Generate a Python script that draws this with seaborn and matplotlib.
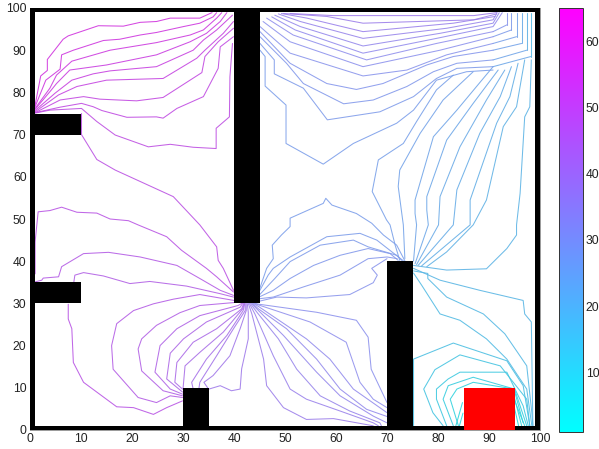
import matplotlib
matplotlib.use("Agg")
import matplotlib.pyplot as plt
import matplotlib.colors as mcolors
from matplotlib.cm import ScalarMappable
from matplotlib.patches import Rectangle
import pandas as pd
import seaborn as sns

# obstacles: x, y, width, height
walls = [(0, 0, 100, 1), (0, 99, 100, 1), (0, 0, 1, 100), (99, 0, 1, 100),
         (1, 70, 9, 5), (1, 30, 9, 5), (30, 0, 5, 10), (40, 30, 5, 70), (70, 0, 5, 40)]
goal = (85, 0, 10, 10)

# contours: (level, xs, ys)
contours = [
 (60,[1,2.1,3.4,3.4,6.5,7.5,13.4,18.3,21.6,24.8,27.5,33.3,35.3,35.7],[77,83.9,85.2,87.8,92.6,93.4,95.8,95.7,96.6,96.8,97.6,97.6,98.7,98.9]),
 (59,[1,3.1,5.9,6.2,8.5,14.4,17.6,21.6,24.8,30.1,33.3,35.9,36.6],[76.6,82.9,85.5,88.9,90,92.3,92.6,93.6,94.2,95.6,96.4,97.9,98.9]),
 (58,[1,3.9,5.2,8.2,15.7,24.8,31.4,34,36.6,37.6],[76.2,81,84.1,87.4,90,91.8,93.6,94.8,97.6,98.9]),
 (57,[1,4.2,5.2,7.8,15,24.8,31.4,34.6,37.3,38.6],[76,80.6,82.1,85.3,86.5,88.9,92,94,96.8,98.9]),
 (56,[1,4.9,8.2,12.4,15.7,24.8,32,34,36.6,39.7],[75.7,79.8,82.9,84.4,85.1,86.1,90,92.4,94.8,98.3]),
 (55,[1,5.6,9.2,15,26.1,32.7,34.3,37.9,39.9],[75.4,79.4,81.4,82.9,83.3,88.1,90,94,96.8]),
 (54,[1,5.9,10.5,13.7,20.9,26.1,33.7,34.3,36.9,39.9],[75.2,78.2,79,78.4,78,78.8,84.7,88.5,92,95.2]),
 (53,[1,5.9,10.1,12.4,14.1,19,24.8,26.1,28.8,34,36.9,37.3,39.9],[75.2,76.5,77.4,76.6,75.7,74.1,74.2,73.9,76.2,79,85.7,90.8,93.2]),
 (52,[1,3.9,10.1,13.1,16.7,23.2,27.5,32,36.5,36.5,39.1,39.2,39.7],[75.1,75.8,76.2,73.1,69.9,67.1,67.7,67,66.7,71.5,74.2,83.7,91.6]),
 (51,[10.1,10.1,13.1,16.7,28.1,33.3,36.6,36.9,37.9,39.9],[75,70,64.1,61.6,55.3,48.6,43.4,40.2,38.3,33.1]),
 (50,[1,1,1.6,3.9,6.2,9.2,13.1,15.7,19.3,21.2,26.8,29.7,34.6,36.6,39.9],[37,44.6,51.7,52,52.8,51.6,51.4,50,49.6,48.6,45.8,42.6,38.3,36.3,32.7]),
 (48,[1,2.3,2.6,5.6,6.2,10.5,15.4,21.6,28.8,33.3,37.3,39.9],[35.1,35.5,36,36.3,38.7,41.8,42.1,41,39,35.9,33.1,31.9]),
 (47,[8.6,8.8,10.5,14.4,19.6,23.5,30.7,37.3,39.9],[35.1,36.7,37.3,36.5,34.7,35.2,34.1,32.3,31.5]),
 (50,[7.5,7.5,8.2,8.5,10.5,17,20.3,24.2,26.8,29.9],[29.8,26.3,24,16,11.3,5.5,5.3,3.7,5.3,6.9]),
 (48,[40,33.3,28.1,24.2,20.3,17,16,16.3,21.2,24.8,27.5,29.9],[30.7,32.1,31,29.9,28.3,25.2,20,14.4,7.7,6.5,8.1,7.7]),
 (47,[40,33.3,29.4,24.8,21.9,21.2,21.9,26.1,29.9],[30.2,29.5,27.8,24.8,21.6,19.2,14,9.3,8.1]),
 (46,[41.5,40.8,33.3,28.8,25.5,24.5,27.5,29.9],[30,29.5,27.1,24,20,13.7,9.7,8.5]),
 (45,[41.7,41.2,34.6,30.1,27.5,26.8,29.9],[30,29.1,25.6,21.6,18.2,12.1,9]),
 (44,[41.9,41.5,36.6,32,28.8,28.4,29.9],[30,28.7,24,20.8,16,11.3,9.7]),
 (43,[42,41.7,37.9,33.3,30.4,30],[30,28.7,23.2,18.4,15.2,9.7]),
 (42,[42.1,41.8,38.6,34.6,31.7,32],[30,28.3,22.4,16.8,11.3,9.7]),
 (41,[42.2,42.2,39.9,36.6,33.3,33.1],[30,28.3,24,17.6,11.3,9.7]),
 (40,[42.4,42.4,41.2,39.2,35.9,34.1,35],[30,28.3,24,17.6,12.9,11.3,9.7]),
 (39,[42.6,42.8,42.8,41.5,41.2,39.5,37.3,35.1],[30,27.9,21.6,14.5,9.7,9.3,10.5,9.7]),
 (38,[42.8,43.5,45.8,46.4,49.7,54.2,59.5,67.3],[30,27.5,16.8,10.5,5.3,2.5,2.7,1]),
 (37,[43,44.1,47.7,51,54.2,60.8,67.3,68.3],[30,27.5,17.6,9.7,7.3,4.5,1.7,1]),
 (36,[43.2,44.5,48.7,52.3,56.9,62.7,68.6,68.9],[30,27.9,21.6,14.4,8.1,4.5,1.7,1]),
 (35,[43.4,44.8,49.7,56.2,60.8,67.3,70],[30,28.3,22.4,13.7,8.1,3.3,1.7]),
 (34.5,[43.6,44.8,50.3,56.2,60.8,66,70],[30,28.7,24,16.8,9.7,4.9,3.2]),
 (34,[43.8,44.9,54.2,58.8,63.4,70],[30,29.2,21.6,16.8,9.7,4.1]),
 (33,[44,44.9,54.9,62,64.7,67.3,70],[30,29.6,25.6,20.8,11.3,7.3,5.3]),
 (32,[44.2,44.9,56.2,64,66.3,66.9,70],[30,29.8,27.9,26,22,14.4,6.5]),
 (31,[44.9,48.4,54.2,62.7,67.3,68.1,67,70],[30.5,31.5,31.3,32.1,34.9,36.7,38.3,40.6]),
 (30,[44.9,47.7,53.6,60.8,66.3,70,72],[31.1,31.5,33.9,36.7,40.6,41,40.6]),
 (29,[44.9,47.7,51,55.6,60.8,66.3,70.6,72.2],[31.5,33.1,35.9,39,41.4,43,41.8,40.2]),
 (28,[44.9,48,51,56.9,63.4,66.3,71.9,72.9],[31.9,35.9,39.9,43.8,45,43.4,41.4,40.2]),
 (27.5,[44.9,46.7,47.7,51,58.2,64.7,68,73.2],[32.7,36.7,38.3,41,45.8,46.6,45,40.1]),
 (27,[44.9,46.4,47.7,47.5,49.3,51,51,57.5,58,59.2,64,67,69.3,71.9,73.5],[33,38.3,40.6,43.8,46.2,48.2,50.2,53.7,54.9,53.3,51.3,49,46.2,43.8,40.1]),
 (27,[45.1,46.1,46.1,50.2,50.2,57.5,63.4,71.9,75.2,79.7,85.6,90.8],[90,88.5,81.5,77,67.9,63,67.9,72.7,75.8,82.9,84.9,85.3]),
 (28,[45.1,47.9,47.9,53.6,58.3,68.6,75.2,79.7,83.7,90.8],[91.6,87.7,84.4,81,73.5,75.4,79,83.3,85.7,86.1]),
 (29,[45.1,50.3,53.6,61.5,67.3,73.9,79.1,83.7,90.8],[93.2,86.9,82.1,77.3,78.2,81.4,84.9,86.9,87.7]),
 (30,[45.1,51,58.2,64,69.2,77.8,83,90.8],[94.4,86.9,82.1,80.7,82.1,86.5,88.5,90]),
 (31,[45.1,51,65.3,73.9,81.7,90.8],[95.6,89.3,83.9,85.3,88.9,91.6]),
 (32,[45.7,51,65.3,80.4,90.8],[96.8,92,86.1,90,93.2]),
 (33,[46.4,51.6,66,79.7,90.8],[97.6,93.6,87.7,91.6,94.4]),
 (34,[47.4,52,65.3,79.7,90.8,92.6],[97.9,94.8,89.3,92.8,95.6,98.9]),
 (35,[48,53,65.3,80.4,90.8,92],[98.3,95.6,91,94,96.4,98.9]),
 (36,[48.7,53,65.3,81.7,90.8,91.6],[98.6,96.8,92.8,95.2,97.2,98.9]),
 (37,[49.3,54.3,65.3,83,91.2],[98.7,97.6,94.4,96.4,98]),
 (38,[49.7,58.2,65.3,87,91.5],[98.7,98,96.4,97.2,98.6]),
 (39,[51,59.5,87,91.5],[98.7,98.2,98.2,98.9]),
 # top-right corner: strips running down from the top wall
 (31,[93.5,93.5],[98.9,96]),
 (28,[94.4,94.4],[98.9,94.8]),
 (25,[95.4,95.4],[98.9,93.2]),
 (22,[96.4,96.4],[98.9,91.6]),
 (19,[97.4,97.4],[98.9,90]),
 (16,[98.2,98.2],[98.9,88.5]),
 # top-right corner: diagonals joining the strips
 (30,[90.8,93.5],[94.4,96]),
 (28,[90.8,94.4],[93.2,94.8]),
 (26,[90.8,95.4],[91.6,93.2]),
 (25,[90.8,96.4],[90,91.6]),
 (24,[90.8,97.4],[87.7,90]),
 (23,[90.8,98.2],[86.1,88.5]),
 (26,[83,79.7,75.8,73.2,68.3,67.1,69.9,70.6,71.6,72.5],[84.1,80.6,73.1,67.9,64,56.5,49.8,48.6,43.8,40.2]),
 (25,[86.9,81,76.5,72.5,72.2,72.9,73.2,73.5],[84.9,78.2,70.3,61.6,57.7,51.3,48.6,40.6]),
 (24,[90.8,83.7,79.1,75.5,75.5,75.8,75.2],[86.1,75.8,69.5,54.5,51.3,48.6,40]),
 (23,[91.8,86.9,81.7,77.8,77.8,78.1,75.5],[85.3,77.4,68.7,55.3,52.1,48.6,39.4]),
 (22,[93.1,89.5,84.3,80.4,80.1,75.8],[85.3,78.2,67.1,55.3,48.6,39.2]),
 (21,[94.4,92.2,88.2,83.7,83,76.1],[86.1,79,70.3,56.9,48.6,39]),
 (20,[95.7,94.1,91.5,86.3,86.3,76.8],[86.9,79,72.7,54.5,48.6,38.9]),
 (19,[97,95.4,92.8,89.5,86.9,81.7,77.8],[87.7,76.6,71.9,54.5,48.6,42.2,38.7]),
 (18,[98.3,98,97,96.1,95.4,95.4,93.5,89.5,81.7,75.2],[87.7,76.6,74.2,56.1,48.6,46.2,43,38.2,37.9,39]),
 (17,[75.2,80.4,88.2,96.7,97,98.3,98.6],[38.3,35.5,33.1,30.7,27.5,25.6,1]),
 (16,[75.2,78,78,81.7,88.9,93.1,95.6,97.4,98.4,98.6],[37.7,37.1,35.9,31.5,27.5,22.8,18.4,15.2,4.1,1]),
 (15,[75.2,76.8,80.4,84.3,89.5,93.5,97.4,98.4],[37.2,34.3,27.5,26,21.6,16.8,9.7,1]),
 (13,[75.2,75.2,83,93.5,96.7,98],[1,16.8,20.6,16.4,10.5,1]),
 (11,[81,79,77.2,79.4,84.3,92.2,97.4,98],[1,4.1,9.7,14.3,17.8,15.2,7.3,1]),
 (9,[81.7,79.7,79.7,82,84.3,93.5,96.7,97.7],[1,7.3,9.7,12.1,13.7,13.7,5.7,1]),
 (7,[83,81,82,86.9,95,97.4],[1,7.3,10.5,12.5,9.7,1]),
 (5,[84,82.4,83.7,86.9,94.9,96.7],[1,7.3,9.7,11.3,9.7,1.7]),
 (4,[94.9,96.4],[8.1,1]),
 (3,[94.9,95.8],[5.7,1]),
 (3.5,[95,97],[7,1]),
 (3,[84.8,83.5],[6.5,1]),
 (2.5,[84.9,84.2],[4,1]),
]
x_ticks = [0, 10, 20, 30, 40, 50, 60, 70, 80, 90, 100]
bar_ticks = [10, 20, 30, 40, 50, 60]
v_min, v_max = 1, 65

rows = [(i, lev, x, y) for i, (lev, xs, ys) in enumerate(contours) for x, y in zip(xs, ys)]
df = pd.DataFrame(rows, columns=["id", "level", "x", "y"])

sns.set_style("white")
plt.rcParams["font.family"] = ["Liberation Sans", "DejaVu Sans"]
plt.rcParams["font.size"] = 8.7

fig = plt.figure(figsize=(5.99, 4.49), dpi=100)
W, H = 599, 449
ax = fig.add_axes([30 / W, 1 - 430 / H, 510 / W, 422 / H])
cax = fig.add_axes([559 / W, 1 - 432 / H, 24 / W, 424 / H])

norm = mcolors.Normalize(v_min, v_max)
cool = plt.get_cmap("cool")
line_palette = {lev: sns.desaturate(cool(norm(lev))[:3], 0.72) for lev in df["level"].unique()}
sns.lineplot(data=df, x="x", y="y", hue="level", units="id", estimator=None, sort=False,
             palette=line_palette, legend=False, lw=0.75, alpha=0.9, ax=ax)

for w in walls:
    ax.add_patch(Rectangle(w[:2], w[2], w[3], fc="black", ec="none", zorder=5))
ax.add_patch(Rectangle(goal[:2], goal[2], goal[3], fc="#ff0000", ec="none", zorder=6))

ax.set(xlim=(0, 100), ylim=(0, 100), xlabel="", ylabel="")
ax.set_xticks(x_ticks)
ax.set_yticks(x_ticks)
ax.tick_params(length=0, pad=2.5, labelsize=8.7, colors="#222222")
for s in ax.spines.values():
    s.set_color("#999999")
    s.set_linewidth(0.7)

cb = fig.colorbar(ScalarMappable(norm=norm, cmap="cool"), cax=cax)
cb.set_ticks(bar_ticks)
cax.tick_params(direction="in", length=3, width=0.6, pad=2, left=True, right=True,
                labelsize=8.7, colors="#222222")
cb.outline.set_edgecolor("#333333")
cb.outline.set_linewidth(0.7)

fig.savefig("out.png", dpi=100)
